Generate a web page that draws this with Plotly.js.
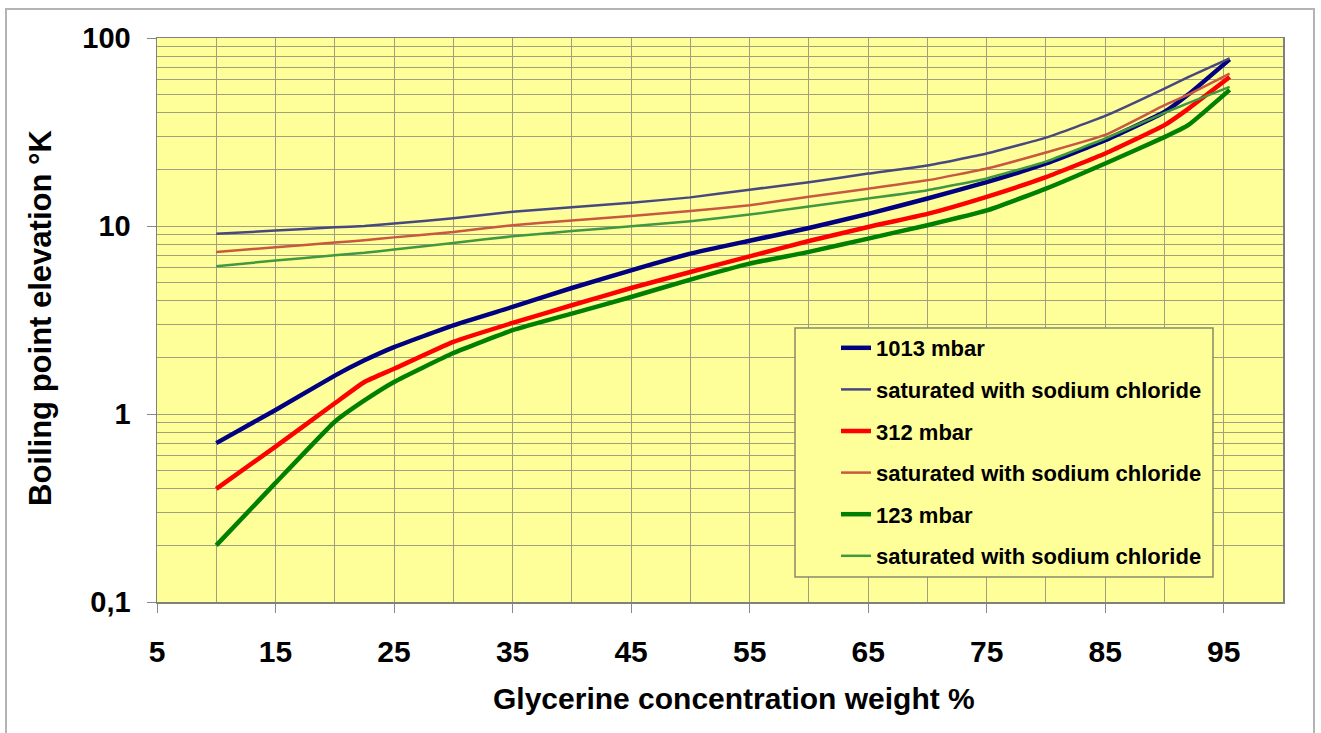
<!DOCTYPE html>
<html>
<head>
<meta charset="utf-8">
<script src="https://cdn.plot.ly/plotly-3.0.1.min.js"></script>
<style>
  html, body { margin: 0; padding: 0; background: #ffffff; }
  #wrap { position: relative; width: 1321px; height: 733px; overflow: hidden; }
  #chart { position: absolute; left: 0; top: 0; width: 1321px; height: 733px; }
  #frame { position: absolute; left: 5px; top: 8px; width: 1306px; height: 740px;
           border: 2px solid #b4b4b4; pointer-events: none; }
</style>
</head>
<body>
<div id="wrap">
  <div id="chart"></div>
  <div id="frame"></div>
</div>
<script>
// Glycerine concentration, weight %
const concentration = [10, 15, 20, 22.5, 25, 30, 35, 40, 45, 50, 55, 60, 65, 70, 75, 80, 85, 90, 92, 95.5];

// Boiling point elevation (K)
const bp1013 = [0.70, 1.05, 1.60, 1.93, 2.27, 2.96, 3.71, 4.68, 5.81, 7.13, 8.35, 9.75, 11.6, 14.0, 17.1, 21.5, 28.6, 40.4, 50, 77];
const sat1013 = [9.1, 9.45, 9.85, 10.0, 10.3, 11.0, 11.9, 12.6, 13.3, 14.2, 15.6, 17.1, 19.0, 21.0, 24.3, 29.5, 38.5, 53.8, 62, 78];
const bp312 = [0.40, 0.67, 1.14, 1.48, 1.74, 2.42, 3.05, 3.79, 4.68, 5.69, 6.90, 8.32, 9.88, 11.6, 14.3, 18.2, 24.3, 34.4, 42, 62];
const sat312 = [7.28, 7.7, 8.17, 8.4, 8.7, 9.29, 10.1, 10.7, 11.3, 12.0, 12.9, 14.3, 15.8, 17.5, 20.2, 24.6, 30.5, 43.9, 50, 64.7];
const bp123 = [0.20, 0.43, 0.91, 1.18, 1.48, 2.11, 2.79, 3.42, 4.19, 5.19, 6.31, 7.28, 8.57, 10.1, 12.1, 15.8, 21.5, 29.7, 34.4, 53];
const sat123 = [6.11, 6.55, 6.98, 7.2, 7.5, 8.13, 8.81, 9.4, 9.96, 10.6, 11.5, 12.7, 14.0, 15.5, 17.9, 22.0, 29.2, 40, 45, 55];

const seriesNames = ['1013 mbar', 'saturated with sodium chloride', '312 mbar',
                     'saturated with sodium chloride', '123 mbar', 'saturated with sodium chloride'];

const xTickVals = [5, 15, 25, 35, 45, 55, 65, 75, 85, 95];
const yTickVals = [0.1, 1, 10, 100];
const yTickText = ['0,1', '1', '10', '100'];

const xTitle = 'Glycerine concentration weight %';
const yTitle = 'Boiling point elevation °K';

const FONT = 'Liberation Sans, Arial, Helvetica, sans-serif';

const seriesY = [bp1013, sat1013, bp312, sat312, bp123, sat123];
const colors = ['#000080', '#484880', '#ff0000', '#c8583f', '#008000', '#40983f'];
const widths = [4.5, 2.5, 4.5, 2.5, 4.5, 2.5];

const traces = seriesY.map((y, i) => ({
  type: 'scatter',
  mode: 'lines',
  x: concentration,
  y: y,
  name: seriesNames[i],
  legendgroup: 'g' + i,
  line: { color: colors[i], width: widths[i], shape: 'spline', smoothing: 0.4 }
}));

// minor log gridlines (2..9 of each decade)
const minorY = [];
[0.1, 1, 10].forEach(d => { for (let k = 2; k <= 9; k++) minorY.push(+(d * k).toPrecision(3)); });

const L = 157, R = 1283, T = 38, B = 602;
const pw = R - L, ph = B - T;
const px = v => (v - L) / pw;
const py = v => (B - v) / ph;

const gridColor = '#a09f80';

const layout = {
  width: 1321, height: 733,
  margin: { l: L, r: 1321 - R, t: T, b: 733 - B },
  paper_bgcolor: 'rgba(0,0,0,0)',
  plot_bgcolor: '#ffff99',
  font: { family: FONT, color: '#000000' },
  showlegend: true,
  legend: {
    x: px(836), y: py(327), xanchor: 'left', yanchor: 'top',
    bgcolor: 'rgba(0,0,0,0)', borderwidth: 0,
    font: { family: FONT, size: 22, weight: 'bold', color: '#000' },
    traceorder: 'grouped', tracegroupgap: 10
  },
  xaxis: {
    range: [5, 100],
    tickmode: 'array', tickvals: xTickVals,
    ticks: 'outside', ticklen: 9, tickcolor: '#888888', tickwidth: 1,
    ticklabelstandoff: 13,
    tickfont: { family: FONT, size: 30, weight: 'bold', color: '#000' },
    showgrid: true, gridcolor: gridColor, gridwidth: 1,
    minor: { tickmode: 'linear', tick0: 0, dtick: 10, showgrid: true, gridcolor: gridColor, gridwidth: 1, ticks: '' },
    showline: true, linecolor: '#808080', linewidth: 1.5, mirror: true,
    zeroline: false,
    fixedrange: true
  },
  yaxis: {
    type: 'log', range: [-1, 2],
    tickmode: 'array', tickvals: yTickVals, ticktext: yTickText,
    ticks: 'outside', ticklen: 9, tickcolor: '#888888', tickwidth: 1,
    ticklabelstandoff: 10,
    tickfont: { family: FONT, size: 29, weight: 'bold', color: '#000' },
    showgrid: true, gridcolor: gridColor, gridwidth: 1,
    minor: { tickmode: 'array', tickvals: minorY, showgrid: true, gridcolor: gridColor, gridwidth: 1, ticks: '' },
    showline: true, linecolor: '#808080', linewidth: 1.5, mirror: true,
    zeroline: false,
    fixedrange: true
  },
  annotations: [
    { text: xTitle, xref: 'paper', yref: 'paper', x: px(734), y: py(698),
      xanchor: 'center', yanchor: 'middle', showarrow: false,
      font: { family: FONT, size: 30, weight: 'bold', color: '#000' } },
    { text: yTitle, xref: 'paper', yref: 'paper', x: px(40), y: py(318),
      xanchor: 'center', yanchor: 'middle', showarrow: false, textangle: -90,
      font: { family: FONT, size: 31, weight: 'bold', color: '#000' } }
  ],
  shapes: [{
    type: 'rect', xref: 'paper', yref: 'paper', layer: 'above',
    x0: px(795), x1: px(1213), y0: py(577), y1: py(328),
    fillcolor: '#ffff99', line: { color: '#8a8a6a', width: 1.5 }
  }]
};

Plotly.newPlot('chart', traces, layout, { displayModeBar: false, staticPlot: true });
</script>
</body>
</html>
